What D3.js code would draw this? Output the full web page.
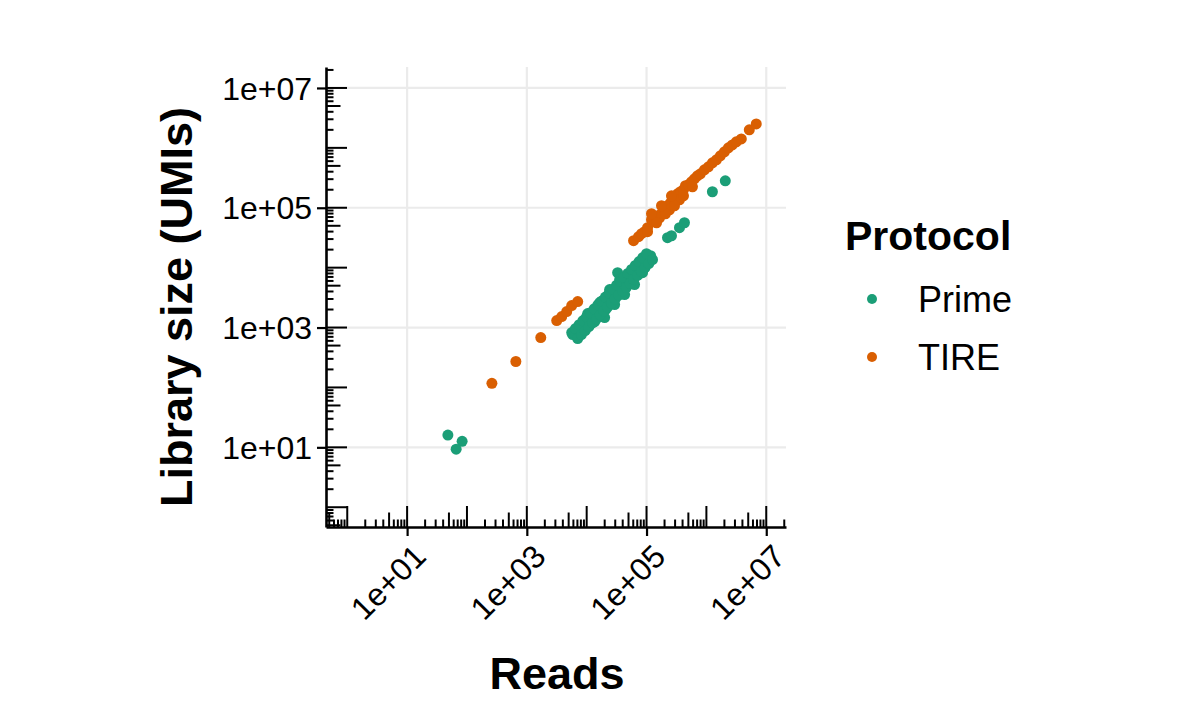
<!DOCTYPE html>
<html><head><meta charset="utf-8">
<script src="https://cdn.jsdelivr.net/npm/d3@7"></script>
<style>
html,body{margin:0;padding:0;background:#fff;}
text{font-family:"Liberation Sans",Arial,Helvetica,sans-serif;}
</style></head>
<body><svg id="chart" width="1200" height="720"></svg>
<script>
// ---- data ----
const protocols = ["Prime", "TIRE"];
const colors = ["#1b9e77", "#d95f02"];
const tickValues = [1e1, 1e3, 1e5, 1e7];
const tickLabels = ["1e+01", "1e+03", "1e+05", "1e+07"];

const primeReads = [48, 83, 66,
  5840, 7080, 8580, 10000, 10400, 12100, 13600, 15200, 17100, 18500, 20700, 22400, 25100, 27100, 30400,
  32900, 34100, 38300, 41400, 46400, 52100, 58400, 65600, 70800, 79400, 92600, 104000, 117000, 9260,
  19950, 29300, 43000, 63100, 85800, 16500, 24200, 35500,
  5623, 6494, 7499, 8660, 10000, 11550, 13340, 15400, 17780, 20540, 23710, 27380, 31620, 36520, 42170,
  48700, 56230, 64940, 74990, 86600, 100000,
  7079, 8175, 9441, 10900, 12590, 14540, 16790, 19390, 22390, 25850, 29850, 34470, 39810, 45970, 53090,
  61310, 70790, 81750, 94410, 109000, 125900,
  224000, 261000, 355000, 430000, 1260000, 2070000];
const primeUMIs = [16, 12.6, 9.3,
  765, 708, 926, 1122, 1710, 1470, 1259, 1850, 1585, 2330, 1995, 2930, 2510, 3690, 3160,
  8250, 4640, 3980, 5620, 4820, 6810, 6070, 8910, 7640, 11200, 12600, 14100, 15800, 1360,
  1470, 2420, 3550, 5210, 8250, 2610, 4300, 6310,
  826, 960, 1117, 1300, 1514, 1762, 2051, 2385, 2773, 3228, 3758, 4375, 5093, 5923, 6887,
  8017, 9333, 10860, 12640, 14710, 17100,
  656, 763, 887, 1033, 1202, 1400, 1629, 1895, 2203, 2564, 2985, 3475, 4046, 4704, 5470,
  6368, 7413, 8630, 10040, 11680, 13580,
  31600, 34100, 46400, 56200, 185000, 282000];

const tireReads = [261, 656, 1710, 3160, 3830, 4640, 5620, 7080,
  60700, 73600, 92600, 82600, 104000, 121000, 136000, 152000, 178000, 200000, 224000, 251000, 271000,
  304000, 329000, 369000, 414000, 447000, 501000, 562000, 631000, 708000, 794000, 926000,
  1080000, 1260000, 1470000, 1710000, 2000000, 2330000, 2710000, 3160000, 3830000, 5210000, 6810000,
  165000, 242000, 355000,
  104000, 147000, 207000, 293000, 414000, 585000, 121000, 178000, 261000];
const tireUMIs = [117, 271, 681, 1310, 1525, 1850, 2330, 2710,
  28200, 32900, 39800, 36900, 46400, 63100, 58400, 73600, 79400, 96200, 108000, 121000, 147000,
  136000, 171000, 185000, 200000, 233000, 242000, 271000, 304000, 341000, 369000, 430000,
  482000, 562000, 631000, 736000, 858000, 1000000, 1120000, 1260000, 1410000, 2000000, 2510000,
  68100, 92600, 136000,
  39800, 56200, 79400, 108000, 158000, 224000, 79400, 108000, 158000];

// ---- layout ----
const svg = d3.select("#chart");
const L = 326, R = 786, T = 67, B = 527;
const x = d3.scaleLog().domain([Math.pow(10, -0.355), Math.pow(10, 7.33)]).range([L, R]);
const y = d3.scaleLog().domain([Math.pow(10, -0.33), Math.pow(10, 7.35)]).range([B, T]);

// grid
const grid = svg.append("g");
grid.selectAll("line.vx").data(tickValues).join("line")
  .attr("x1", d => x(d)).attr("x2", d => x(d)).attr("y1", T).attr("y2", B)
  .attr("stroke", "#ebebeb").attr("stroke-width", 2.2);
grid.selectAll("line.hy").data(tickValues).join("line")
  .attr("y1", d => y(d)).attr("y2", d => y(d)).attr("x1", L).attr("x2", R)
  .attr("stroke", "#ebebeb").attr("stroke-width", 2.2);

// points
const series = [
  {name: protocols[0], color: colors[0], xs: primeReads, ys: primeUMIs},
  {name: protocols[1], color: colors[1], xs: tireReads, ys: tireUMIs}
];
series.forEach(s => {
  const pts = s.xs.map((v, i) => [v, s.ys[i]]);
  svg.append("g").selectAll("circle").data(pts).join("circle")
    .attr("cx", d => x(d[0])).attr("cy", d => y(d[1])).attr("r", 5.5)
    .attr("fill", s.color);
});

// log ticks (inside panel)
const logTicks = [];
for (let k = -1; k <= 7; k++) for (let m = 1; m <= 9; m++) logTicks.push({v: m * Math.pow(10, k), m});
const tlen = m => m === 1 ? 21 : (m === 5 ? 14.5 : 7.5);
const xd = x.domain(), yd = y.domain();
const lt = svg.append("g").attr("stroke", "#000").attr("stroke-width", 2);
lt.selectAll("line.lx").data(logTicks.filter(d => d.v >= xd[0] && d.v <= xd[1])).join("line")
  .attr("x1", d => x(d.v)).attr("x2", d => x(d.v)).attr("y1", B).attr("y2", d => B - tlen(d.m));
lt.selectAll("line.ly").data(logTicks.filter(d => d.v >= yd[0] && d.v <= yd[1])).join("line")
  .attr("y1", d => y(d.v)).attr("y2", d => y(d.v)).attr("x1", L).attr("x2", d => L + tlen(d.m));

// axes
const fmt = d => tickLabels[tickValues.indexOf(d)];
const xAxis = svg.append("g").attr("transform", `translate(0,${B})`)
  .call(d3.axisBottom(x).tickValues(tickValues).tickFormat(fmt).tickSize(9).tickSizeOuter(0));
const yAxis = svg.append("g").attr("transform", `translate(${L},0)`)
  .call(d3.axisLeft(y).tickValues(tickValues).tickFormat(fmt).tickSize(9).tickSizeOuter(0));
[xAxis, yAxis].forEach(a => {
  a.select(".domain").attr("stroke", "#000").attr("stroke-width", 2.6);
  a.selectAll(".tick line").attr("stroke", "#000").attr("stroke-width", 2.2);
  a.selectAll(".tick text").attr("fill", "#000").style("font-size", "32px");
});
xAxis.selectAll(".tick text")
  .attr("text-anchor", "end").attr("y", 0).attr("dy", "0.72em")
  .attr("transform", "translate(4,15) rotate(-45)");
yAxis.selectAll(".tick text").attr("x", -14).attr("dy", "0.35em");

// titles
svg.append("text").attr("x", 557).attr("y", 689).attr("text-anchor", "middle")
  .style("font-size", "45px").style("font-weight", "bold").text("Reads");
svg.append("text").attr("transform", "translate(192,307) rotate(-90)").attr("text-anchor", "middle")
  .style("font-size", "45px").style("font-weight", "bold").text("Library size (UMIs)");

// legend
const lg = svg.append("g");
lg.append("text").attr("x", 845).attr("y", 250).style("font-size", "41px").style("font-weight", "bold").text("Protocol");
protocols.forEach((p, i) => {
  const cy = 299 + i * 58;
  lg.append("circle").attr("cx", 872).attr("cy", cy).attr("r", 5).attr("fill", colors[i]);
  lg.append("text").attr("x", 918).attr("y", cy + 13).style("font-size", "36px").text(p);
});
</script></body></html>
